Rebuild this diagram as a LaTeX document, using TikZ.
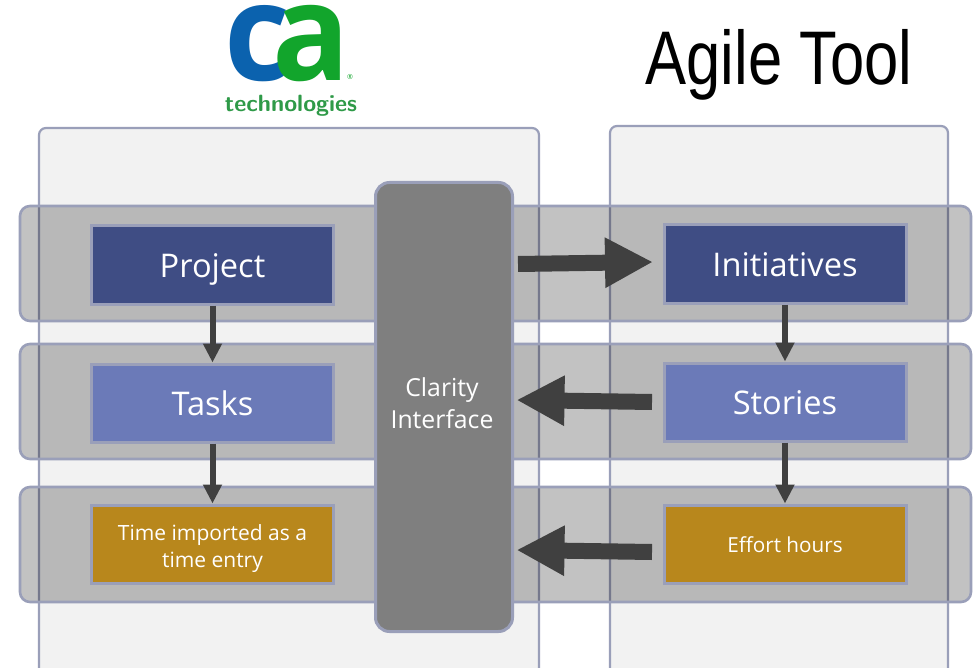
\documentclass[tikz,border=0pt]{standalone}
\usepackage{fontspec}
\setmainfont{Open Sans}
\newfontfamily\titlefont{Liberation Sans}
\usetikzlibrary{arrows.meta,calc}
\definecolor{edgeblue}{HTML}{9A9FB9}
\definecolor{panelgrey}{HTML}{F2F2F2}
\definecolor{clearygrey}{HTML}{7F7F7F}
\definecolor{arrowgrey}{HTML}{404040}
\definecolor{navy}{HTML}{3F4D84}
\definecolor{midblue}{HTML}{6B7AB8}
\definecolor{gold}{HTML}{B8871C}
\definecolor{cablue}{HTML}{0B62AE}
\definecolor{cagreen}{HTML}{12A52C}
\definecolor{catext}{HTML}{2F9A48}
\tikzset{
  panelbox/.style={draw=edgeblue,line width=2.2pt,fill=panelgrey,rounded corners=7pt},
  bandbox/.style={draw=edgeblue,line width=2.6pt,fill=black,fill opacity=.24,draw opacity=1,rounded corners=10pt},
  itembox/.style={draw=edgeblue,line width=3pt,minimum width=242pt,minimum height=78pt,inner sep=0pt,text=white},
  topbox/.style={itembox,fill=navy,text height=32pt,text depth=7pt,font=\fontsize{32.6}{36}\selectfont},
  midbox/.style={itembox,fill=midblue,text height=32pt,text depth=7pt,font=\fontsize{32.6}{36}\selectfont},
  lowbox/.style={itembox,fill=gold,align=center,font=\fontsize{21}{27.5}\selectfont},
  logoletter/.style={inner sep=0pt,anchor=base,xscale=.95,font=\bfseries\fontsize{135}{140}\selectfont},
  downarrow/.style={draw=arrowgrey,line width=6pt,-{Triangle[width=18pt,length=19pt,fill=arrowgrey]}},
  blockarrow/.style={draw=arrowgrey,line width=16pt,-{Triangle[width=47pt,length=48pt,fill=arrowgrey]}}
}
\begin{document}
\begin{tikzpicture}[x=1pt,y=-1pt]
\clip (0,0) rectangle (974,668);
\fill[white] (0,0) rectangle (974,668);
% columns
\draw[panelbox] (39,128) rectangle (539,720);
\draw[panelbox] (610,126) rectangle (948,720);
% bands
\draw[bandbox] (20,206) rectangle (971,321);
\draw[bandbox] (20,344) rectangle (971,459);
\draw[bandbox] (20,487) rectangle (971,602);
% items
\node[topbox] (project) at (212.5,265) {Project};
\node[midbox] (tasks) at (212.5,403) {Tasks};
\node[lowbox] (timeentry) at (212.5,544) {\rule{0pt}{25pt}Time imported as a\\time entry};
\node[topbox] (initiatives) at (785,264) {Initiatives};
\node[midbox] (stories) at (785,402) {Stories};
\node[lowbox,font=\fontsize{20.7}{26}\selectfont] (effort) at (785,544) {\rule{0pt}{18pt}Effort hours};
% clarity
\node[draw=edgeblue,line width=3pt,fill=clearygrey,rounded corners=14pt,minimum width=137pt,minimum height=449pt,inner sep=0pt] (clarity) at (444,407) {};
\node[inner sep=0pt,text=white,align=center,font=\fontsize{24.8}{32}\selectfont] (claritytext) at (442,403) {Clarity\\Interface};
% vertical connectors
\draw[downarrow] (project.south) -- (tasks.north);
\draw[downarrow] (tasks.south) -- (timeentry.north);
\draw[downarrow] (initiatives.south) -- (stories.north);
\draw[downarrow] (stories.south) -- (effort.north);
% block connectors
\coordinate (a1s) at (518,264);
\coordinate (a1e) at (653,262);
\coordinate (a2s) at (652,402);
\coordinate (a2e) at (516.5,400);
\coordinate (a3s) at (652,552);
\coordinate (a3e) at (516.5,550);
\draw[blockarrow] (a1s) -- (a1e);
\draw[blockarrow] (a2s) -- (a2e);
\draw[blockarrow] (a3s) -- (a3e);
% title
\node[inner sep=0pt,xscale=.81,font=\titlefont\fontsize{76}{80}\selectfont] (title) at (779,65) {Agile Tool};
% logo
\node[logoletter,text=cablue] (logoc) at (257,81) {c};
\node[logoletter,text=cagreen] (logoa) at (311,81) {a};
\node[inner sep=0pt,text=cagreen,font=\fontsize{7}{8}\selectfont] (logor) at (350,77) {®};
\node[inner sep=0pt,text=catext,font=\sffamily\bfseries\fontsize{23.5}{25}\selectfont] (logot) at (291,106) {technologies};
\end{tikzpicture}
\end{document}
